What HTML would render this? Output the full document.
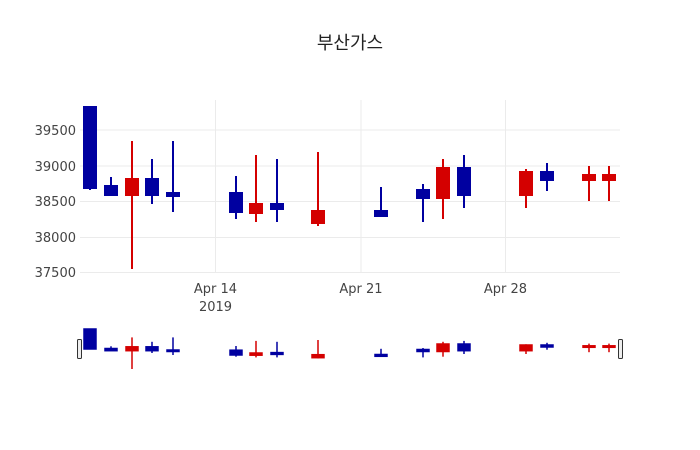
<!DOCTYPE html>
<html><head><meta charset="utf-8"><style>
html,body{margin:0;padding:0;background:#fff;}
svg{display:block;font-family:"DejaVu Sans","Liberation Sans",sans-serif;}
</style></head><body>
<svg width="700" height="450" viewBox="0 0 700 450" xmlns="http://www.w3.org/2000/svg">
<rect width="700" height="450" fill="#fff"/>
<text x="350" y="49" text-anchor="middle" font-size="18" fill="#222" font-family="'Liberation Sans','Noto Sans CJK KR',sans-serif">부산가스</text>
<g stroke="#ebebeb" stroke-width="1">
<line x1="80" x2="620" y1="130" y2="130"/>
<line x1="80" x2="620" y1="166" y2="166"/>
<line x1="80" x2="620" y1="201.5" y2="201.5"/>
<line x1="80" x2="620" y1="237.5" y2="237.5"/>
<line x1="80" x2="620" y1="272.5" y2="272.5"/>
<line x1="215.5" x2="215.5" y1="100" y2="272"/>
<line x1="361" x2="361" y1="100" y2="272"/>
<line x1="505.5" x2="505.5" y1="100" y2="272"/>
</g>
<g font-size="13" fill="#444" text-anchor="end">
<text x="76" y="135">39500</text>
<text x="76" y="171">39000</text>
<text x="76" y="206">38500</text>
<text x="76" y="242">38000</text>
<text x="76" y="277">37500</text>
</g>
<g font-size="13" fill="#444" text-anchor="middle">
<text x="215.5" y="293">Apr 14</text>
<text x="215.5" y="311">2019</text>
<text x="361" y="293">Apr 21</text>
<text x="505.5" y="293">Apr 28</text>
</g>
<g stroke-width="2">
<g stroke="#0000a0" fill="#0000a0">
<line x1="90" x2="90" y1="107" y2="190"/><rect x="84" y="107" width="12" height="81"/>
<line x1="111" x2="111" y1="177" y2="195"/><rect x="105" y="186" width="12" height="9"/>
<line x1="152" x2="152" y1="159" y2="204"/><rect x="146" y="179" width="12" height="16"/>
<line x1="173" x2="173" y1="141" y2="212"/><rect x="167" y="193" width="12" height="3"/>
<line x1="236" x2="236" y1="176" y2="219"/><rect x="230" y="193" width="12" height="19"/>
<line x1="277" x2="277" y1="159" y2="222"/><rect x="271" y="204" width="12" height="5"/>
<line x1="381" x2="381" y1="187" y2="216"/><rect x="375" y="211" width="12" height="5"/>
<line x1="423" x2="423" y1="184" y2="222"/><rect x="417" y="190" width="12" height="8"/>
<line x1="464" x2="464" y1="155" y2="208"/><rect x="458" y="168" width="12" height="27"/>
<line x1="547" x2="547" y1="163" y2="191"/><rect x="541" y="172" width="12" height="8"/>
</g>
<g stroke="#d40000" fill="#d40000">
<line x1="132" x2="132" y1="141" y2="269"/><rect x="126" y="179" width="12" height="16"/>
<line x1="256" x2="256" y1="155" y2="222"/><rect x="250" y="204" width="12" height="9"/>
<line x1="318" x2="318" y1="152" y2="226"/><rect x="312" y="211" width="12" height="12"/>
<line x1="443" x2="443" y1="159" y2="219"/><rect x="437" y="168" width="12" height="30"/>
<line x1="526" x2="526" y1="169" y2="208"/><rect x="520" y="172" width="12" height="23"/>
<line x1="589" x2="589" y1="166" y2="201"/><rect x="583" y="175" width="12" height="5"/>
<line x1="609" x2="609" y1="166" y2="201"/><rect x="603" y="175" width="12" height="5"/>
</g>
</g>
<g stroke-width="1.5">
<g stroke="#0000a0" fill="#0000a0">
<rect x="84" y="329" width="12" height="20"/>
<line x1="111" x2="111" y1="346.3" y2="350.7"/><rect x="105" y="348.5" width="12" height="2.2"/>
<line x1="152" x2="152" y1="341.8" y2="353"/><rect x="146" y="346.8" width="12" height="3.9"/>
<line x1="173" x2="173" y1="337.4" y2="355"/><rect x="167" y="350" width="12" height="1.5"/>
<line x1="236" x2="236" y1="346" y2="356.7"/><rect x="230" y="350.2" width="12" height="4.8"/>
<line x1="277" x2="277" y1="341.8" y2="357.4"/><rect x="271" y="352.6" width="12" height="1.8"/>
<line x1="381" x2="381" y1="348.8" y2="356"/><rect x="375" y="354.5" width="12" height="1.8"/>
<line x1="423" x2="423" y1="348" y2="357.4"/><rect x="417" y="349.5" width="12" height="2"/>
<line x1="464" x2="464" y1="340.9" y2="354"/><rect x="458" y="344" width="12" height="6.7"/>
<line x1="547" x2="547" y1="342.8" y2="349.7"/><rect x="541" y="345" width="12" height="2"/>
</g>
<g stroke="#d40000" fill="#d40000">
<line x1="132" x2="132" y1="337.4" y2="369"/><rect x="126" y="346.8" width="12" height="3.9"/>
<line x1="256" x2="256" y1="340.9" y2="357.4"/><rect x="250" y="353" width="12" height="2.2"/>
<line x1="318" x2="318" y1="340" y2="358.4"/><rect x="312" y="354.7" width="12" height="3"/>
<line x1="443" x2="443" y1="341.8" y2="356.7"/><rect x="437" y="344" width="12" height="7.5"/>
<line x1="526" x2="526" y1="344.3" y2="354"/><rect x="520" y="345" width="12" height="5.7"/>
<line x1="589" x2="589" y1="343.6" y2="352.2"/><rect x="583" y="345.8" width="12" height="1.5"/>
<line x1="609" x2="609" y1="343.6" y2="352.2"/><rect x="603" y="345.8" width="12" height="1.5"/>
</g>
</g>
<rect x="77.5" y="339.5" width="4" height="19" rx="1" fill="#eee" stroke="#333" stroke-width="1"/>
<rect x="618.5" y="339.5" width="4" height="19" rx="1" fill="#eee" stroke="#333" stroke-width="1"/>
</svg>
</body></html>
